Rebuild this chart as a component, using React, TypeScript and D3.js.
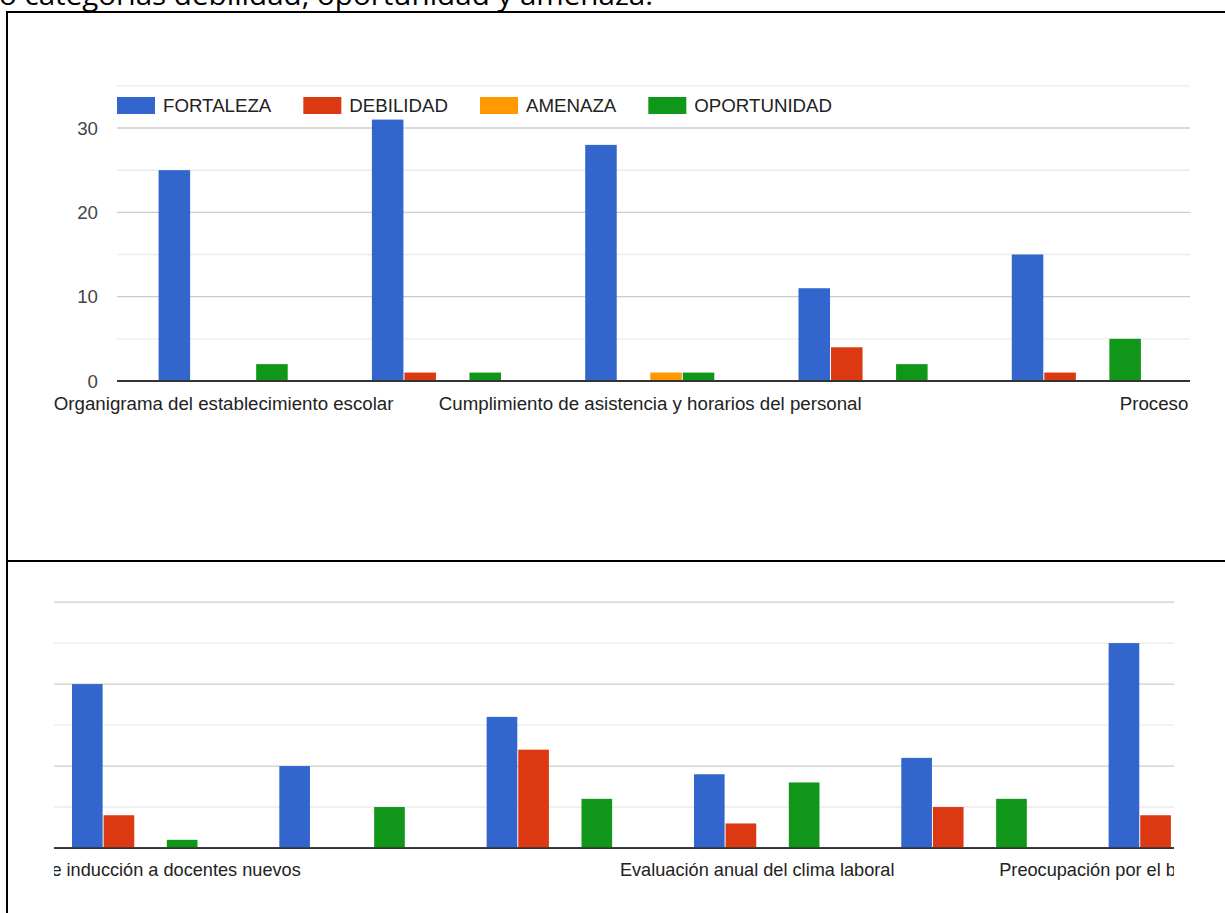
import React, { useMemo } from "react";
import * as d3 from "d3";

// ---------- data ----------
const seriesNames = ["FORTALEZA", "DEBILIDAD", "AMENAZA", "OPORTUNIDAD"];
const seriesColors = ["#3366cc", "#dc3912", "#ff9900", "#109618"];
const categoryLabels = [
  "Organigrama del establecimiento escolar",
  "",
  "Cumplimiento de asistencia y horarios del personal",
  "",
  "",
  "Proceso de inducción a docentes nuevos",
  "",
  "",
  "Evaluación anual del clima laboral",
  "",
  "Preocupación por el bienestar del personal",
];
const fortaleza = [25, 31, 28, 11, 15, 20, 10, 16, 9, 11, 25];
const debilidad = [0, 1, 0, 4, 1, 4, 0, 12, 3, 5, 4];
const amenaza = [0, 0, 1, 0, 0, 0, 0, 0, 0, 0, 0];
const oportunidad = [2, 1, 1, 2, 5, 1, 5, 6, 8, 6, 2];
const yTickValues = [0, 10, 20, 30];
const gridValues = [0, 5, 10, 15, 20, 25, 30, 35];
const headerText = "o categorías debilidad, oportunidad y amenaza.";

const seriesValues = [fortaleza, debilidad, amenaza, oportunidad];

// ---------- layout (chart coordinates) ----------
const W = 1225;
const H = 913;
const FONT = "Arial, 'Liberation Sans', sans-serif";
const FS = 18.7;
const PLOT_LEFT = 117;
const STEP = 213.3;
const BASE = 381;
const PX_PER_UNIT = 8.433;
const N = categoryLabels.length;

function measure(text: string, font: string): number {
  if (typeof document === "undefined") return text.length * 9;
  const c = document.createElement("canvas");
  const ctx = c.getContext("2d");
  if (!ctx) return text.length * 9;
  ctx.font = font;
  return ctx.measureText(text).width;
}

function Chart({ id }: { id: string }) {
  const x = d3
    .scaleBand<number>()
    .domain(d3.range(N))
    .range([PLOT_LEFT, PLOT_LEFT + N * STEP])
    .paddingInner(0.39)
    .paddingOuter(0.195);
  const xs = d3.scaleBand<string>().domain(seriesNames).range([0, x.bandwidth()]);
  const y = d3
    .scaleLinear()
    .domain([0, 35])
    .range([BASE, BASE - 35 * PX_PER_UNIT]);
  const plotRight = PLOT_LEFT + N * STEP;

  const legend = useMemo(() => {
    let cx = PLOT_LEFT;
    return seriesNames.map((name, i) => {
      const w = measure(name, `${FS}px Arial, 'Liberation Sans', sans-serif`);
      const item = { name, color: seriesColors[i], x: cx };
      cx += 46 + w + 32;
      return item;
    });
  }, []);

  return (
    <g>
      {gridValues.map((v) => (
        <line
          key={"g" + v}
          x1={PLOT_LEFT}
          x2={plotRight}
          y1={y(v)}
          y2={y(v)}
          stroke={v === 0 ? "#333" : v % 10 === 0 ? "#cccccc" : "#ebebeb"}
          strokeWidth={v === 0 ? 1.8 : 1.4}
        />
      ))}
      {yTickValues.map((v) => (
        <text
          key={"t" + v}
          x={98}
          y={y(v) + 6.5}
          textAnchor="end"
          fontFamily={FONT}
          fontSize={FS}
          fill="#444"
        >
          {v}
        </text>
      ))}
      {d3.range(N).map((i) =>
        seriesNames.map((s, j) => {
          const v = seriesValues[j][i];
          if (!v) return null;
          return (
            <rect
              key={`b${i}-${j}`}
              x={(x(i) as number) + (xs(s) as number)}
              y={y(v)}
              width={xs.bandwidth() - 1}
              height={BASE - y(v)}
              fill={seriesColors[j]}
            />
          );
        })
      )}
      <line x1={PLOT_LEFT} x2={plotRight} y1={BASE} y2={BASE} stroke="#333" strokeWidth={1.8} />
      {categoryLabels.map((lab, i) =>
        lab ? (
          <text
            key={"c" + i}
            x={(x(i) as number) + x.bandwidth() / 2}
            y={BASE + 29}
            textAnchor="middle"
            fontFamily={FONT}
            fontSize={FS}
            fill="#222"
          >
            {lab}
          </text>
        ) : null
      )}
      {legend.map((it) => (
        <g key={it.name}>
          <rect x={it.x} y={97} width={38} height={17} fill={it.color} />
          <text x={it.x + 46} y={111.5} fontFamily={FONT} fontSize={FS} fill="#222">
            {it.name}
          </text>
        </g>
      ))}
    </g>
  );
}

export default function App() {
  const k = 0.972;
  const tx = -1118.8;
  const ty = 477.7;
  return (
    <svg
      width={W}
      height={H}
      viewBox={`0 0 ${W} ${H}`}
      style={{ position: "absolute", left: 0, top: 0, background: "#fff" }}
    >
      <defs>
        <clipPath id="clipTop">
          <rect x={9} y={13} width={1181} height={547} />
        </clipPath>
        <clipPath id="clipBottom">
          <rect x={54} y={562} width={1120} height={351} />
        </clipPath>
      </defs>
      <rect x={0} y={0} width={W} height={H} fill="#fff" />
      <text
        x={-1}
        y={5}
        fontFamily="'Open Sans', 'Noto Sans', sans-serif"
        fontSize={28}
        textLength={654}
        lengthAdjust="spacingAndGlyphs"
        fill="#000"
      >
        {headerText}
      </text>
      <g clipPath="url(#clipTop)">
        <Chart id="top" />
      </g>
      <g clipPath="url(#clipBottom)">
        <g transform={`translate(${tx},${ty}) scale(${k})`}>
          <Chart id="bottom" />
        </g>
      </g>
      <line x1={6} x2={W} y1={12} y2={12} stroke="#000" strokeWidth={2} />
      <line x1={7} x2={7} y1={11} y2={H} stroke="#000" strokeWidth={2} />
      <line x1={6} x2={W} y1={561} y2={561} stroke="#000" strokeWidth={2.2} />
    </svg>
  );
}
